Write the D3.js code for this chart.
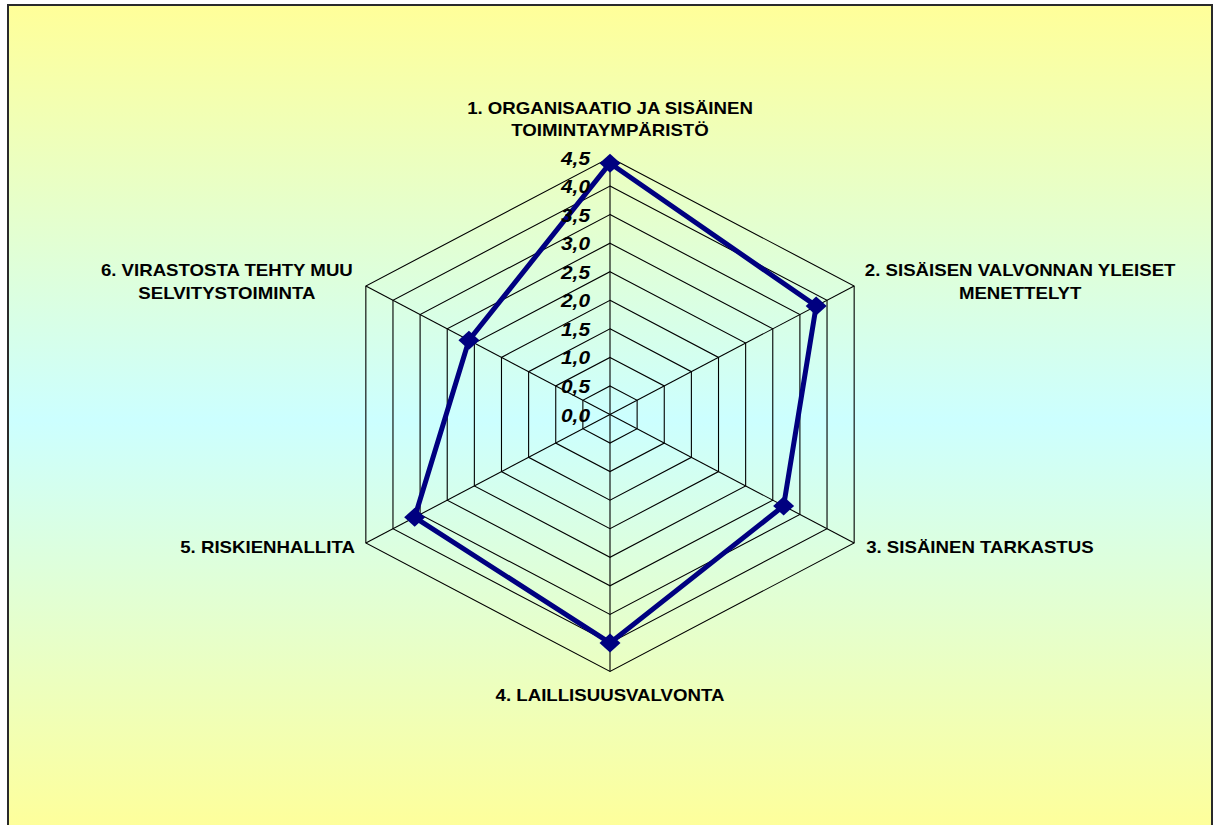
<!DOCTYPE html>
<html>
<head>
<meta charset="utf-8">
<script src="https://cdn.jsdelivr.net/npm/d3@7"></script>
<style>
  html, body { margin: 0; padding: 0; background: #fff; }
  svg { display: block; }
  text { font-family: "Liberation Sans", Arial, sans-serif; font-weight: bold; fill: #000; }
</style>
</head>
<body>
<svg id="chart" width="1216" height="825"></svg>
<script>
// categories (axes) of the radar, clockwise from the top
const categories = [
  ["1. ORGANISAATIO JA SISÄINEN", "TOIMINTAYMPÄRISTÖ"],
  ["2. SISÄISEN VALVONNAN YLEISET", "MENETTELYT"],
  ["3. SISÄINEN TARKASTUS"],
  ["4. LAILLISUUSVALVONTA"],
  ["5. RISKIENHALLITA"],
  ["6. VIRASTOSTA TEHTY MUU", "SELVITYSTOIMINTA"]
]
// series values
const values = [4.4, 3.8, 3.2, 4.0, 3.6, 2.6]
// tick labels of the value axis
const ticks = [0, 0.5, 1, 1.5, 2, 2.5, 3, 3.5, 4, 4.5]
const tickLabels = ["0,0", "0,5", "1,0", "1,5", "2,0", "2,5", "3,0", "3,5", "4,0", "4,5"]

const svg = d3.select('#chart')

/* fondo degradado */
const defs = svg.append('defs')
const grad = defs.append('linearGradient')
  .attr('id', 'bg').attr('x1', 0).attr('y1', 0).attr('x2', 0).attr('y2', 1)
grad.append('stop').attr('offset', '0%').attr('stop-color', '#ffff99')
grad.append('stop').attr('offset', '50%').attr('stop-color', '#ccffff')
grad.append('stop').attr('offset', '100%').attr('stop-color', '#ffff99')

svg.append('rect')
  .attr('x', 8).attr('y', 5).attr('width', 1204).attr('height', 830)
  .attr('fill', 'url(#bg)')
  .attr('stroke', '#2a2a2a').attr('stroke-width', 2)

/* escala radial (el gráfico original está estirado horizontalmente) */
const cx = 610, cy = 414.5
const stretch = 1.097
const r = d3.scaleLinear().domain([0, 4.5]).range([0, 257])
const n = categories.length
const angle = i => -Math.PI / 2 + i * 2 * Math.PI / n
const pt = (i, v) => [cx + Math.cos(angle(i)) * r(v) * stretch, cy + Math.sin(angle(i)) * r(v)]

const g = svg.append('g')

/* anillos */
g.selectAll('polygon.ring')
  .data(ticks.filter(t => t > 0))
  .join('polygon')
  .attr('class', 'ring')
  .attr('points', t => d3.range(n).map(i => pt(i, t).join(',')).join(' '))
  .attr('fill', 'none')
  .attr('stroke', '#000')
  .attr('stroke-width', 1.1)

/* ejes */
g.selectAll('line.spoke')
  .data(d3.range(n))
  .join('line')
  .attr('class', 'spoke')
  .attr('x1', cx).attr('y1', cy)
  .attr('x2', i => pt(i, 4.5)[0])
  .attr('y2', i => pt(i, 4.5)[1])
  .attr('stroke', '#000')
  .attr('stroke-width', 1.1)

/* serie */
const line = d3.line().curve(d3.curveLinearClosed)
g.append('path')
  .attr('d', line(values.map((v, i) => pt(i, v))))
  .attr('fill', 'none')
  .attr('stroke', '#000080')
  .attr('stroke-width', 5)
  .attr('stroke-linejoin', 'miter')

g.selectAll('path.marker')
  .data(values)
  .join('path')
  .attr('class', 'marker')
  .attr('transform', (v, i) => `translate(${pt(i, v)})`)
  .attr('d', 'M0,-9.5 L10.5,0 L0,9.5 L-10.5,0 Z')
  .attr('fill', '#000080')

/* etiquetas de valores */
svg.selectAll('text.tick')
  .data(ticks)
  .join('text')
  .attr('class', 'tick')
  .attr('transform', t => `translate(590,${cy - r(t) + 7}) scale(${stretch},1)`)
  .attr('text-anchor', 'end')
  .style('font-size', '19px')
  .style('font-style', 'italic')
  .text((t, i) => tickLabels[i])

/* etiquetas de categorías */
const labelPos = [
  { anchor: 'middle', dx: 0, dy: -27.5, up: true },
  { anchor: 'middle', dx: 166, dy: -16 },
  { anchor: 'start', dx: 12, dy: 4 },
  { anchor: 'middle', dx: 0, dy: 23.5 },
  { anchor: 'end', dx: -11, dy: 4 },
  { anchor: 'middle', dx: -139, dy: -16 }
]
const lineH = 22.5
categories.forEach((lines, i) => {
  const p = pt(i, 4.5)
  const o = labelPos[i]
  const y0 = p[1] + o.dy - (o.up ? (lines.length - 1) * lineH : 0)
  lines.forEach((s, k) => {
    svg.append('text')
      .attr('transform', `translate(${p[0] + o.dx},${y0 + k * lineH + 6.2}) scale(${stretch},1)`)
      .attr('text-anchor', o.anchor)
      .style('font-size', '17px')
      .text(s)
  })
})
</script>
</body>
</html>
